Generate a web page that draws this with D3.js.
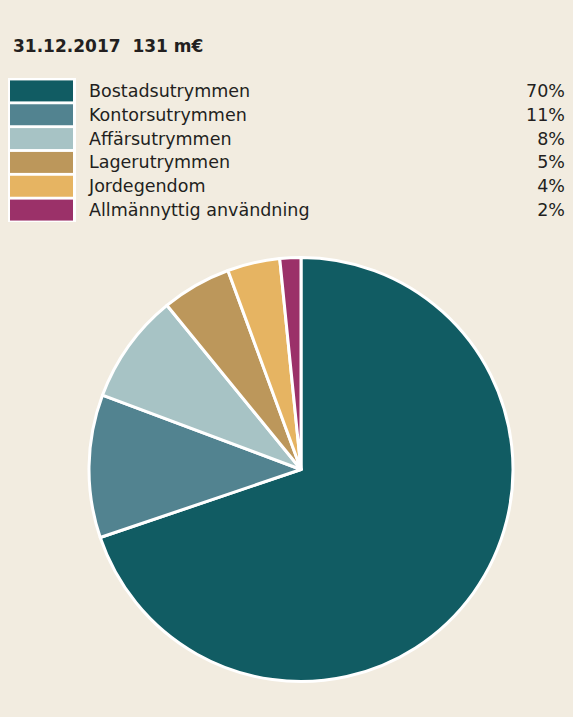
<!DOCTYPE html>
<html>
<head>
<meta charset="utf-8">
<script src="https://cdn.jsdelivr.net/npm/d3@7"></script>
<style>
	body { margin: 0; background: #f2ece0; }
	svg { display: block; font-family: 'DejaVu Sans', sans-serif; }
</style>
</head>
<body>
<div id="chart"></div>
<script>
const title = '31.12.2017  131 m€';
const categories = [
	'Bostadsutrymmen',
	'Kontorsutrymmen',
	'Affärsutrymmen',
	'Lagerutrymmen',
	'Jordegendom',
	'Allmännyttig användning',
];
// shares in %
const shares = [69.8, 10.9, 8.4, 5.3, 4.0, 1.6];
const colors = ['#115c63', '#528390', '#a7c3c5', '#bc975b', '#e6b462', '#9b3169'];

const width = 573;
const height = 717;

const svg = d3
	.select('#chart')
	.append('svg')
	.attr('width', width)
	.attr('height', height);

svg
	.append('rect')
	.attr('width', width)
	.attr('height', height)
	.attr('fill', '#f2ece0');

svg
	.append('text')
	.attr('x', 13)
	.attr('y', 52)
	.attr('font-size', 17)
	.attr('font-weight', 'bold')
	.attr('fill', '#231f20')
	.style('white-space', 'pre')
	.text(title);

// legend
const rowY = d3
	.scaleBand()
	.domain(categories)
	.range([79, 222])
	.paddingInner(0.12)
	.paddingOuter(0.06);

const colorScale = d3.scaleOrdinal().domain(categories).range(colors);

svg
	.append('rect')
	.attr('x', 8)
	.attr('y', 78)
	.attr('width', 68)
	.attr('height', 144)
	.attr('fill', '#ffffff');

const legend = svg
	.append('g')
	.selectAll('g')
	.data(categories)
	.join('g');

legend
	.append('rect')
	.attr('x', 10)
	.attr('y', (d) => rowY(d))
	.attr('width', 63)
	.attr('height', rowY.bandwidth())
	.attr('fill', (d) => colorScale(d));

legend
	.append('text')
	.attr('x', 89)
	.attr('y', (d) => rowY(d) + rowY.bandwidth() / 2 + 6)
	.attr('font-size', 17.5)
	.attr('fill', '#231f20')
	.text((d) => d);

legend
	.append('text')
	.attr('x', 565)
	.attr('y', (d) => rowY(d) + rowY.bandwidth() / 2 + 6)
	.attr('font-size', 17.5)
	.attr('text-anchor', 'end')
	.attr('fill', '#231f20')
	.text((d, i) => Math.round(shares[i]) + '%');

// pie
const cx = 301;
const cy = 469.5;
const radius = 212;

const pie = d3
	.pie()
	.sort(null)
	.value((d) => d.share);

const arc = d3.arc().innerRadius(0).outerRadius(radius);

const pieData = categories.map((c, i) => ({ key: c, share: shares[i] }));

svg
	.append('g')
	.attr('transform', `translate(${cx},${cy})`)
	.selectAll('path')
	.data(pie(pieData))
	.join('path')
	.attr('d', arc)
	.attr('fill', (d) => colorScale(d.data.key))
	.attr('stroke', '#ffffff')
	.attr('stroke-width', 3)
	.attr('stroke-linejoin', 'round');
</script>
</body>
</html>
